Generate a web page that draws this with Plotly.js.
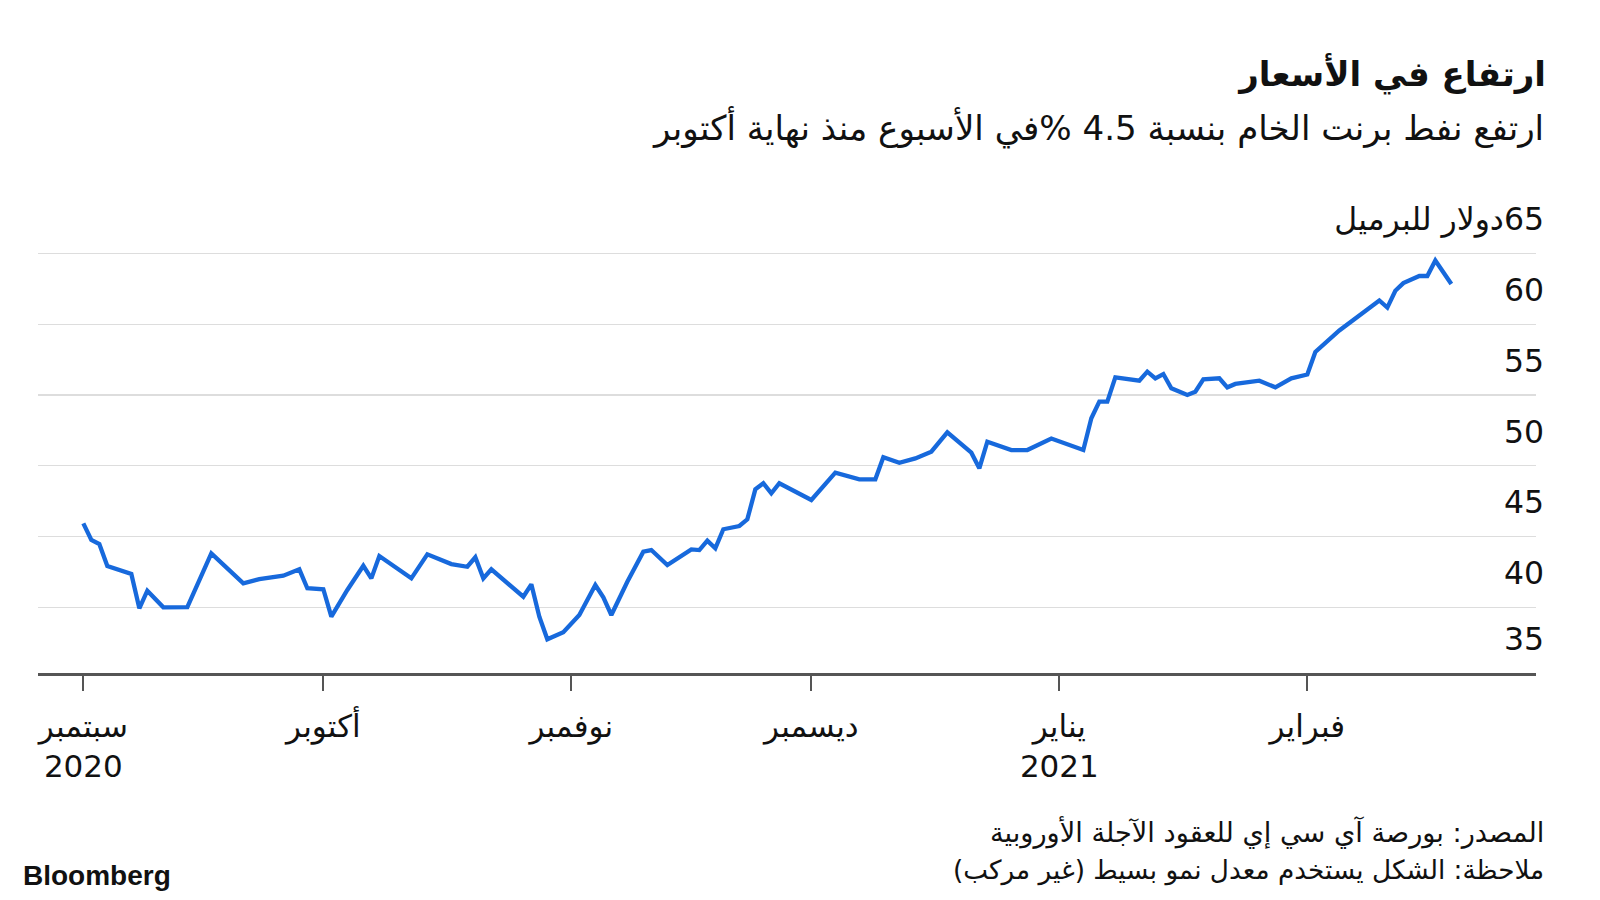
<!DOCTYPE html>
<html>
<head>
<meta charset="utf-8">
<script src="https://cdn.plot.ly/plotly-3.0.1.min.js"></script>
<style>
html,body{margin:0;padding:0;background:#fff;}
#chart{width:1600px;height:900px;}
</style>
</head>
<body>
<div id="chart"></div>
<script>
// ---- Data (Brent crude, USD per barrel) ----
const dates = [
'2020-09-01','2020-09-02','2020-09-03','2020-09-04','2020-09-07','2020-09-08','2020-09-09','2020-09-11',
'2020-09-14','2020-09-17','2020-09-21','2020-09-23','2020-09-26','2020-09-28','2020-09-29','2020-10-01',
'2020-10-02','2020-10-04','2020-10-06','2020-10-07','2020-10-08','2020-10-12','2020-10-14','2020-10-17',
'2020-10-19','2020-10-20','2020-10-21','2020-10-22','2020-10-26','2020-10-27','2020-10-28','2020-10-29',
'2020-10-31','2020-11-02','2020-11-04','2020-11-05','2020-11-06','2020-11-08','2020-11-10','2020-11-11',
'2020-11-13','2020-11-16','2020-11-17','2020-11-18','2020-11-19','2020-11-20','2020-11-22','2020-11-23',
'2020-11-24','2020-11-25','2020-11-26','2020-11-27','2020-12-01','2020-12-04','2020-12-07','2020-12-09',
'2020-12-10','2020-12-12','2020-12-14','2020-12-16','2020-12-18','2020-12-21','2020-12-22','2020-12-23',
'2020-12-26','2020-12-28','2020-12-31','2021-01-04','2021-01-05','2021-01-06','2021-01-07','2021-01-08',
'2021-01-11','2021-01-12','2021-01-13','2021-01-14','2021-01-15','2021-01-17','2021-01-18','2021-01-19',
'2021-01-21','2021-01-22','2021-01-23','2021-01-26','2021-01-28','2021-01-30','2021-02-01','2021-02-02',
'2021-02-05','2021-02-10','2021-02-11','2021-02-12','2021-02-13','2021-02-15','2021-02-16','2021-02-17',
'2021-02-19'
];
const prices = [
45.93,44.75,44.47,42.91,42.35,39.92,41.17,39.99,
40.00,43.81,41.69,41.99,42.23,42.68,41.34,41.27,
39.33,41.22,42.93,42.04,43.62,42.04,43.74,43.05,
42.86,43.53,42.04,42.68,40.74,41.62,39.33,37.73,
38.23,39.45,41.57,40.70,39.45,41.80,43.92,44.04,
42.98,44.09,44.04,44.70,44.16,45.51,45.74,46.21,
48.33,48.76,48.05,48.76,47.58,49.51,49.04,49.04,
50.60,50.21,50.52,50.99,52.36,50.92,49.82,51.70,
51.11,51.11,51.92,51.11,53.35,54.53,54.53,56.25,
56.01,56.65,56.18,56.48,55.47,55.00,55.23,56.11,
56.18,55.54,55.78,56.01,55.54,56.18,56.45,58.04,
59.56,61.68,61.18,62.37,62.91,63.41,63.41,64.51,
62.84
];
const monthTicks = ['2020-09-01','2020-10-01','2020-11-01','2020-12-01','2021-01-01','2021-02-01'];
const monthLabels = ['سبتمبر<br>2020','أكتوبر','نوفمبر','ديسمبر','يناير<br>2021','فبراير'];
const priceTicks = [35,40,45,50,55,60,65];
const priceLabels = ['35','40','45','50','55','60','65دولار للبرميل'];

const titleText = 'ارتفاع في الأسعار';
const subtitleText = 'ارتفع نفط برنت الخام بنسبة 4.5 %في الأسبوع منذ نهاية أكتوبر';
const sourceText = 'المصدر: بورصة آي سي إي للعقود الآجلة الأوروبية';
const noteText = 'ملاحظة: الشكل يستخدم معدل نمو بسيط (غير مركب)';

// ---- helpers ----
const RTL = s => '\u202B' + s + '\u202C';
const FONT = 'DejaVu Sans, Liberation Sans, sans-serif';
const TXT = '#111111';
const M = {l: 38, r: 64, t: 160, b: 227};
const PH = 900 - M.t - M.b, PW = 1600 - M.l - M.r;
const yMin = 35.35, yMax = yMin + PH / 14.148;
const px2x = p => (p - M.l) / PW;
const px2y = p => (900 - M.b - p) / PH;

const trace = {
  type: 'scatter', mode: 'lines',
  x: dates, y: prices,
  line: {color: '#1769dc', width: 4.3, shape: 'linear'},
  hoverinfo: 'x+y'
};

const layout = {
  width: 1600, height: 900,
  paper_bgcolor: '#ffffff', plot_bgcolor: '#ffffff',
  margin: {l: M.l, r: M.r, t: M.t, b: M.b, pad: 0},
  showlegend: false,
  font: {family: FONT, color: TXT},
  title: {
    text: '<b>' + RTL(titleText) + '</b>',
    xref: 'container', yref: 'container',
    x: 1546/1600, xanchor: 'right',
    y: 1 - 74/900, yanchor: 'middle',
    font: {family: FONT, size: 34, color: TXT}
  },
  xaxis: {
    type: 'date',
    range: ['2020-08-26 08:00', '2021-03-01 14:00'],
    tickmode: 'array', tickvals: monthTicks, ticktext: monthLabels.map(RTL),
    ticks: 'outside', ticklen: 15, tickwidth: 2, tickcolor: '#555555',
    ticklabelstandoff: 9,
    showline: true, linecolor: '#555555', linewidth: 2.5,
    showgrid: false, zeroline: false,
    tickfont: {family: FONT, size: 31, color: TXT},
    fixedrange: true
  },
  yaxis: {
    range: [yMin, yMax],
    side: 'right',
    tickmode: 'array',
    tickvals: priceTicks.map(v => Math.max(v, yMin + 0.01)),
    ticktext: priceLabels.map(RTL),
    ticklabelposition: 'inside top',
    ticklabelshift: -12,
    ticklabelstandoff: -11,
    ticks: '',
    showgrid: true, gridcolor: '#dddddd', gridwidth: 1.2,
    showline: false, zeroline: false,
    tickfont: {family: FONT, size: 31.5, color: TXT},
    fixedrange: true
  },
  annotations: [
    {text: RTL(subtitleText), xref: 'paper', yref: 'paper',
     x: px2x(1546), y: px2y(127.5), xanchor: 'right', yanchor: 'middle',
     showarrow: false, font: {family: FONT, size: 34.1, color: TXT}},
    {text: RTL(sourceText), xref: 'paper', yref: 'paper',
     x: px2x(1546), y: px2y(832), xanchor: 'right', yanchor: 'middle',
     showarrow: false, font: {family: FONT, size: 27.2, color: TXT}},
    {text: RTL(noteText), xref: 'paper', yref: 'paper',
     x: px2x(1546), y: px2y(870), xanchor: 'right', yanchor: 'middle',
     showarrow: false, font: {family: FONT, size: 26.3, color: TXT}},
    {text: '<b>Bloomberg</b>', xref: 'paper', yref: 'paper',
     x: px2x(21), y: px2y(875), xanchor: 'left', yanchor: 'middle',
     showarrow: false, font: {family: 'Liberation Sans, Arial, sans-serif', size: 28, color: TXT}}
  ]
};

Plotly.newPlot('chart', [trace], layout, {displayModeBar: false, staticPlot: true});
</script>
</body>
</html>
